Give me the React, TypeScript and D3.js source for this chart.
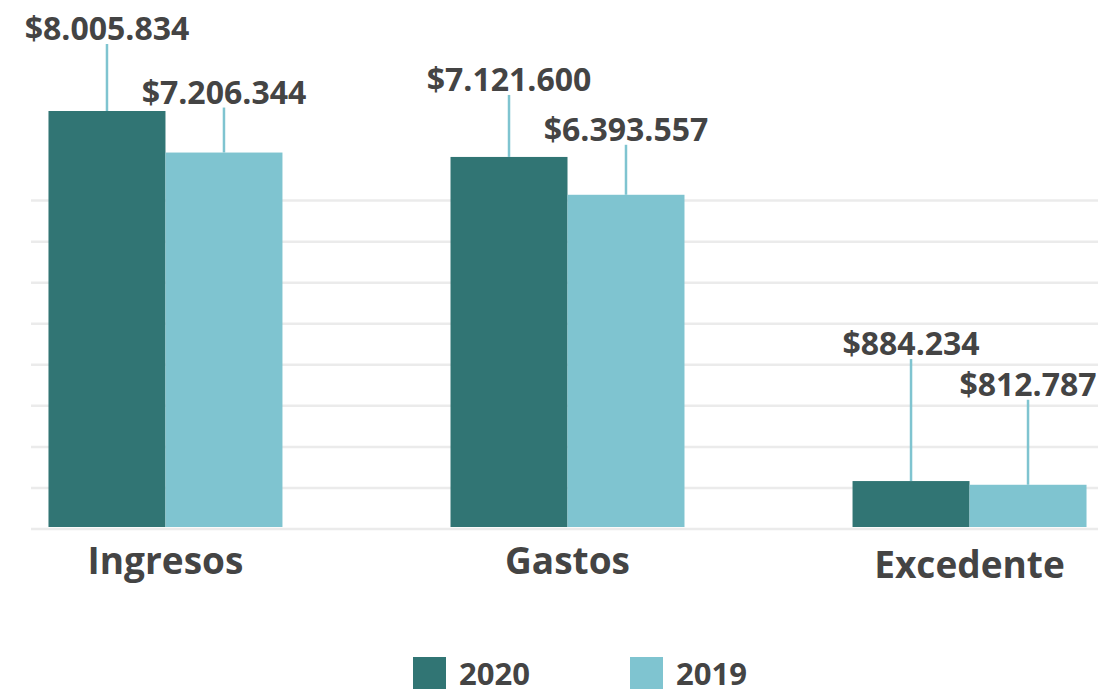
import React from "react";
import * as d3 from "d3";

const categories = ["Ingresos", "Gastos", "Excedente"];
const seriesNames = ["2020", "2019"];
const values2020 = [8005834, 7121600, 884234];
const values2019 = [7206344, 6393557, 812787];
const gridStep = 790000;
const gridCount = 8;
// leader line lengths (px) above each bar
const leader2020 = [67, 62, 122];
const leader2019 = [45, 50, 85];

const W = 1098;
const H = 689;
const colors = ["#317574", "#7fc4d0"];
const textColor = "#444444";
const font = "'Open Sans', 'Noto Sans', sans-serif";

const fmt = (v: number) => "$" + d3.format(",")(v).replace(/,/g, ".");

export default function App() {
  const x0 = d3.scaleBand<string>().domain(categories).range([32, 1103]).paddingInner(0.418).paddingOuter(0.041);
  const x1 = d3.scaleBand<string>().domain(seriesNames).range([0, x0.bandwidth()]);
  const y = d3.scaleLinear().domain([0, 8005834]).range([527, 111]);
  const grid = d3.range(0, gridCount + 1).map((k) => k * gridStep);
  const series = [values2020, values2019];
  const leaders = [leader2020, leader2019];

  return (
    <svg width={W} height={H} style={{ position: "absolute", left: 0, top: 0 }} fontFamily={font}>
      <rect width={W} height={H} fill="#fff" />
      {grid.map((g, i) => (
        <line key={i} x1={31} x2={W} y1={y(g) + 2} y2={y(g) + 2} stroke="#ebebeb" strokeWidth={2.5} />
      ))}
      {categories.map((c, ci) => (
        <g key={c} transform={`translate(${x0(c)},0)`}>
          {seriesNames.map((s, si) => {
            const v = series[si][ci];
            const bx = x1(s)!;
            const cx = bx + x1.bandwidth() / 2;
            const top = y(v);
            const lt = top - leaders[si][ci];
            return (
              <g key={s}>
                <rect x={bx} y={top} width={x1.bandwidth()} height={y(0) - top} fill={colors[si]} />
                <line x1={cx} x2={cx} y1={top} y2={lt} stroke="#7fc4d0" strokeWidth={2.5} />
                <text x={cx} y={lt - 4} textAnchor="middle" fontSize={32} fontWeight={700} fill={textColor}>
                  {fmt(v)}
                </text>
              </g>
            );
          })}
          <text
            x={x0.bandwidth() / 2}
            y={ci === 2 ? 578 : 574}
            textAnchor="middle"
            fontSize={37}
            fontWeight={700}
            fill={textColor}
          >
            {c}
          </text>
        </g>
      ))}
      {seriesNames.map((s, si) => (
        <g key={s} transform={`translate(${413 + si * 217},657)`}>
          <rect width={33} height={32} fill={colors[si]} />
          <text x={46} y={28} fontSize={31} fontWeight={700} fill={textColor}>
            {s}
          </text>
        </g>
      ))}
    </svg>
  );
}
